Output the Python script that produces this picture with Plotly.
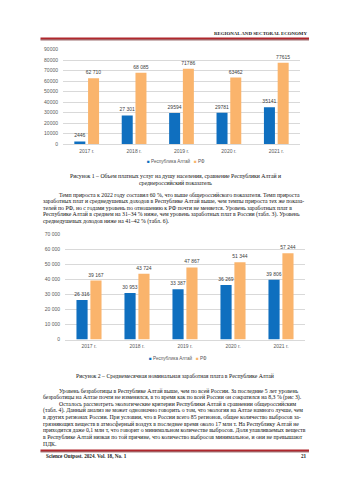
import plotly.graph_objects as go

W, H = 350, 495

years = ["2017 г.", "2018 г.", "2019 г.", "2020 г.", "2021 г."]

# Chart 1: paid services per capita
ra_services = [2446, 27301, 29594, 29781, 35141]
rf_services = [62710, 68085, 71786, 63462, 77615]
ra_services_lbl = ["2446", "27 301", "29594", "29781", "35141"]
rf_services_lbl = ["62 710", "68 085", "71786", "63462", "77615"]
y1_ticks = [0, 10000, 20000, 30000, 40000, 50000, 60000, 70000, 80000, 90000]
y1_ticktext = ["0", "10000", "20000", "30000", "40000", "50000", "60000", "70000", "80000", "90000"]

# Chart 2: average monthly nominal wage
ra_wage = [26316, 30953, 33387, 36269, 39806]
rf_wage = [39167, 43724, 47867, 51344, 57244]
ra_wage_lbl = ["26 316", "30 953", "33 387", "36 269", "39 806"]
rf_wage_lbl = ["39 167", "43 724", "47 867", "51 344", "57 244"]
y2_ticks = [0, 10000, 20000, 30000, 40000, 50000, 60000, 70000]
y2_ticktext = ["0", "10 000", "20 000", "30 000", "40 000", "50 000", "60 000", "70 000"]

series_names = ["Республика Алтай", "РФ"]

BLUE = "#0F6FBF"
ORANGE = "#FAB46C"
GRID = "#D9D9D9"
TICK = "#595959"
SANS = "Liberation Sans"
SERIF = "Liberation Serif"


def px(x):
    return x / W


def py(y):
    return 1 - y / H


fig = go.Figure()
fig.add_trace(go.Bar(x=years, y=ra_services, name=series_names[0], marker_color=BLUE,
                     text=ra_services_lbl, textposition="outside", xaxis="x", yaxis="y"))
fig.add_trace(go.Bar(x=years, y=rf_services, name=series_names[1], marker_color=ORANGE,
                     text=rf_services_lbl, textposition="outside", xaxis="x", yaxis="y"))
fig.add_trace(go.Bar(x=years, y=ra_wage, name=series_names[0], marker_color=BLUE,
                     text=ra_wage_lbl, textposition="outside", xaxis="x2", yaxis="y2"))
fig.add_trace(go.Bar(x=years, y=rf_wage, name=series_names[1], marker_color=ORANGE,
                     text=rf_wage_lbl, textposition="outside", xaxis="x2", yaxis="y2"))
fig.update_traces(showlegend=False, textfont=dict(family=SANS, size=5, color="#404040"),
                  constraintext="none", cliponaxis=False, marker_line_width=0,
                  hoverinfo="skip")

axis_common_x = dict(showgrid=False, showline=True, linecolor=GRID, linewidth=0.7,
                     ticks="", tickfont=dict(family=SANS, size=5, color=TICK),
                     ticklabelstandoff=2, fixedrange=True)
axis_common_y = dict(showgrid=True, gridcolor=GRID, gridwidth=0.7, zeroline=False,
                     showline=False, ticks="", tickfont=dict(family=SANS, size=5, color=TICK),
                     ticklabelstandoff=4, fixedrange=True)

fig.update_layout(
    width=W, height=H, margin=dict(l=0, r=0, t=0, b=0),
    paper_bgcolor="white", plot_bgcolor="white",
    barmode="group", bargap=0.42, bargroupgap=0.2,
    showlegend=False,
    xaxis=dict(domain=[px(63), px(300)], anchor="y", **axis_common_x),
    yaxis=dict(domain=[py(142.7), py(47.3)], anchor="x", range=[0, 90000],
               tickvals=y1_ticks, ticktext=y1_ticktext, **axis_common_y),
    xaxis2=dict(domain=[px(65), px(305)], anchor="y2", **axis_common_x),
    yaxis2=dict(domain=[py(340.7), py(234)], anchor="x2", range=[0, 70000],
                tickvals=y2_ticks, ticktext=y2_ticktext, **axis_common_y),
)

ann = []


def text(x, y, s, size=5.75, anchor="left", family=SERIF, color="#111111"):
    ann.append(dict(x=px(x), y=py(y), xref="paper", yref="paper", text=s,
                    showarrow=False, xanchor=anchor, yanchor="middle",
                    font=dict(family=family, size=size, color=color), borderpad=0))


# Header / footer
text(308, 31, "<b>REGIONAL AND SECTORAL ECONOMY</b>", size=4.9, anchor="right", color="#222")
text(45, 459, "<b>Science Outpost. 2024. Vol. 18, No. 1</b>", size=5.2, color="#222")
text(308, 459, "<b>21</b>", size=5.2, anchor="right", color="#222")

# Legends
leg = (f"<span style='color:{BLUE}'>■</span> {series_names[0]}   "
       f"<span style='color:{ORANGE}'>■</span> {series_names[1]}")
text(176, 160, leg, size=4.6, anchor="center", family=SANS, color=TICK)
text(178, 359, leg, size=4.6, anchor="center", family=SANS, color=TICK)

# Captions
text(175, 175.5, "Рисунок 1 – Объем платных услуг на душу населения, сравнение Республики Алтай и", anchor="center")
text(175, 182, "среднероссийский показатель", anchor="center")
text(175, 378, "Рисунок 2 – Среднемесячная номинальная заработная плата в Республике Алтай", anchor="center")

para1 = [
    "Темп прироста к 2022 году составил 60 %, что выше общероссийского показателя. Темп прироста",
    "заработных плат и среднедушевых доходов в Республике Алтай выше, чем темпы прироста тех же показа-",
    "телей по РФ, но с годами уровень по отношению к РФ почти не меняется. Уровень заработных плат в",
    "Республике Алтай в среднем на 31–34 % ниже, чем уровень заработных плат в России (табл. 3). Уровень",
    "среднедушевых доходов ниже на 41–42 % (табл. 6).",
]
para2 = [
    "Уровень безработицы в Республике Алтай выше, чем по всей России. За последние 5 лет уровень",
    "безработицы на Алтае почти не изменился, в то время как по всей России он сократился на 8,3 % (рис 3).",
    "Осталось рассмотреть экологические критерии Республики Алтай в сравнении общероссийским",
    "(табл. 4). Данный анализ не может однозначно говорить о том, что экология на Алтае намного лучше, чем",
    "в других регионах России. При условии, что в России всего 85 регионов, общее количество выбросов за-",
    "грязняющих веществ в атмосферный воздух в последнее время около 17 млн т. На Республику Алтай не",
    "приходится даже 0,1 млн т, что говорит о минимальном количестве выбросов. Доля улавливаемых веществ",
    "в Республике Алтай низкая по той причине, что количество выбросов минимальное, и они не превышают",
    "ПДК.",
]
indent1 = {0}
indent2 = {0, 2}
for i, line in enumerate(para1):
    text(58 if i in indent1 else 42, 194 + i * 6.7, line)
for i, line in enumerate(para2):
    text(58 if i in indent2 else 42, 392.5 + i * 6.7, line)

fig.update_layout(annotations=ann)

# Decorative rules (header / footer)
shapes = []
for yy in (36, 453):
    shapes.append(dict(type="line", xref="paper", yref="paper", x0=px(40.5), x1=px(309),
                       y0=py(yy), y1=py(yy), line=dict(color="#B0272D", width=2)))
    shapes.append(dict(type="line", xref="paper", yref="paper", x0=px(40.5), x1=px(309),
                       y0=py(yy + 1.4), y1=py(yy + 1.4), line=dict(color="#5E1215", width=0.7)))
fig.update_layout(shapes=shapes)

fig.write_html("out.html", config={"displayModeBar": False})
